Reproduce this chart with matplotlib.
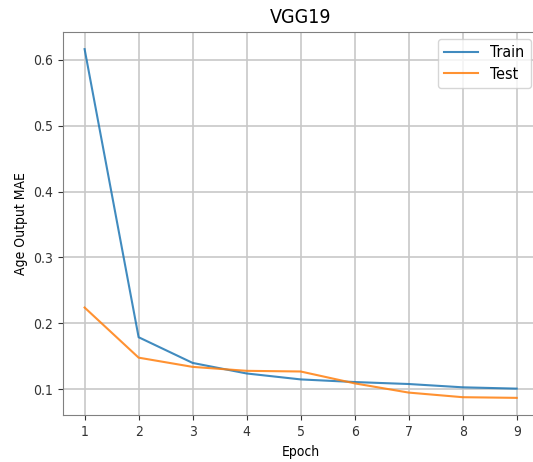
import matplotlib
matplotlib.use("Agg")
import matplotlib.pyplot as plt

plt.rcParams['font.family'] = ['DejaVu Sans']
plt.rcParams['font.stretch'] = 'condensed'

epochs = [1, 2, 3, 4, 5, 6, 7, 8, 9]
train_mae = [0.616, 0.179, 0.140, 0.124, 0.115, 0.111, 0.108, 0.103, 0.101]
test_mae = [0.224, 0.148, 0.134, 0.128, 0.127, 0.109, 0.095, 0.088, 0.087]

fig = plt.figure(figsize=(5.33, 4.62), dpi=100)
ax = fig.add_axes([63 / 533, (462 - 415.3) / 462, (538.3 - 63) / 533, (415.3 - 31.7) / 462])

ax.plot(epochs, train_mae, label='Train', alpha=0.85)
ax.plot(epochs, test_mae, label='Test', alpha=0.85)

ax.set_title('VGG19', fontsize=14)
ax.set_xlabel('Epoch')
ax.set_ylabel('Age Output MAE')
ax.set_xticks(epochs)
ax.grid(True, color='#c8c8c8', linewidth=1.2)
for s in ax.spines.values():
    s.set_color('#808080')
ax.tick_params(colors='#333333', labelcolor='#333333')
ax.legend(fontsize=11.5, handlelength=2.1, labelspacing=0.4,
          loc='upper right', bbox_to_anchor=(531 / 533, (462 - 39) / 462),
          bbox_transform=fig.transFigure, borderaxespad=0)

fig.savefig('out.png', dpi=100)
